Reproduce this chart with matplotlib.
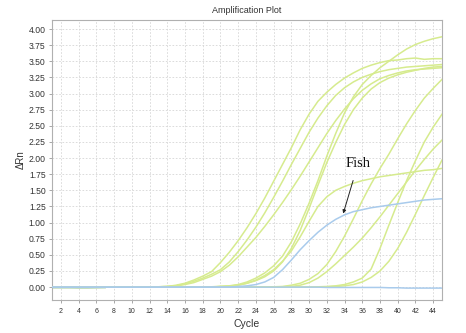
import matplotlib
matplotlib.use("Agg")
import matplotlib.pyplot as plt
from matplotlib.ticker import FixedLocator, FormatStrFormatter

cycles = list(range(1, 46))

# Delta Rn per cycle for each well (cycles 1..45)
well_a1 = [0.00] * 12 + [0.005, 0.01, 0.03, 0.06, 0.11, 0.17, 0.24, 0.38, 0.54, 0.72, 0.92, 1.14, 1.38,
                         1.64, 1.90, 2.16, 2.44, 2.68, 2.88, 3.02, 3.14, 3.24, 3.32, 3.39, 3.44, 3.48,
                         3.51, 3.52, 3.54, 3.55, 3.53, 3.54, 3.54]
well_a2 = [0.00] * 12 + [0.005, 0.01, 0.02, 0.05, 0.09, 0.14, 0.20, 0.27, 0.39, 0.55, 0.73, 0.93, 1.15,
                         1.39, 1.64, 1.90, 2.15, 2.40, 2.62, 2.81, 2.97, 3.09, 3.18, 3.25, 3.30, 3.34,
                         3.37, 3.39, 3.41, 3.42, 3.43, 3.44, 3.45]
well_a3 = [0.00] * 12 + [0.005, 0.01, 0.02, 0.04, 0.07, 0.12, 0.17, 0.24, 0.34, 0.47, 0.62, 0.77, 0.94,
                         1.12, 1.31, 1.51, 1.72, 1.94, 2.16, 2.38, 2.58, 2.76, 2.92, 3.05, 3.15, 3.23,
                         3.28, 3.32, 3.35, 3.37, 3.38, 3.39, 3.40]
well_b1 = [0.00] * 18 + [0.005, 0.01, 0.02, 0.04, 0.08, 0.14, 0.22, 0.33, 0.48, 0.70, 0.98, 1.30, 1.65,
                         2.03, 2.38, 2.70, 2.95, 3.14, 3.28, 3.40, 3.50, 3.60, 3.69, 3.76, 3.81, 3.85,
                         3.88]
well_b2 = [0.00] * 18 + [0.005, 0.01, 0.015, 0.03, 0.06, 0.10, 0.16, 0.25, 0.39, 0.60, 0.88, 1.22, 1.58,
                         1.93, 2.24, 2.52, 2.75, 2.93, 3.07, 3.17, 3.24, 3.29, 3.33, 3.36, 3.39, 3.41,
                         3.42]
well_b3 = [0.00] * 19 + [0.01, 0.015, 0.03, 0.06, 0.11, 0.18, 0.27, 0.40, 0.56, 0.78, 1.02, 1.25, 1.40,
                         1.50, 1.56, 1.61, 1.65, 1.68, 1.71, 1.73, 1.75, 1.77, 1.79, 1.81, 1.82, 1.84]
well_c1 = [0.00] * 25 + [0.005, 0.01, 0.03, 0.06, 0.12, 0.21, 0.35, 0.55, 0.79, 1.06, 1.34, 1.60, 1.84,
                         2.06, 2.30, 2.53, 2.74, 2.93, 3.08, 3.22]
well_c2 = [0.00] * 26 + [0.005, 0.01, 0.03, 0.07, 0.14, 0.24, 0.36, 0.49, 0.62, 0.76, 0.92, 1.09, 1.27,
                         1.45, 1.63, 1.81, 1.98, 2.14, 2.28]
well_d1 = [0.00] * 30 + [0.005, 0.01, 0.02, 0.04, 0.08, 0.14, 0.28, 0.60, 0.96, 1.31, 1.65, 1.96, 2.25,
                         2.48, 2.68]
well_d2 = [0.00] * 31 + [0.005, 0.01, 0.02, 0.04, 0.08, 0.15, 0.25, 0.40, 0.60, 0.85, 1.13, 1.42, 1.70,
                         1.97]

fish = [0.00] * 21 + [0.01, 0.02, 0.04, 0.08, 0.15, 0.27, 0.42, 0.58, 0.72, 0.85, 0.96, 1.05, 1.12, 1.17,
                      1.20, 1.23, 1.25, 1.27, 1.29, 1.31, 1.33, 1.35, 1.36, 1.37]
fish_neg = [0.00] * 30 + [0.00, -0.005, -0.005, -0.005, -0.005, -0.005, -0.005, -0.005, -0.01, -0.01,
                          -0.015, -0.015, -0.015, -0.015, -0.015]
early_cycles = [1, 2, 3, 4, 5, 6, 7]
early_base = [-0.01, -0.01, -0.01, -0.012, -0.012, -0.01, -0.008]

green_wells = [well_a1, well_a2, well_a3, well_b1, well_b2, well_b3,
               well_c1, well_c2, well_d1, well_d2]

x_ticks = list(range(2, 45, 2))
y_ticks = [i * 0.25 for i in range(17)]

GREEN = "#d6eb8e"
BLUE = "#a9cbec"
TXT = "#333333"

fig = plt.figure(figsize=(4.66, 3.33), dpi=100)
ax = fig.add_axes([0.1116, 0.099, 0.837, 0.841])

ax.plot(early_cycles, early_base, color="#a8cfa0", lw=1.1, zorder=2)
for w in green_wells:
    ax.plot(cycles, w, color=GREEN, lw=1.1, zorder=3)
ax.plot(cycles, fish, color=BLUE, lw=1.1, zorder=4)
ax.plot(cycles, fish_neg, color=BLUE, lw=1.1, zorder=4)

ax.set_xlim(1, 45)
ax.set_ylim(-0.2, 4.14)
ax.xaxis.set_major_locator(FixedLocator(x_ticks))
ax.yaxis.set_major_locator(FixedLocator(y_ticks))
ax.yaxis.set_major_formatter(FormatStrFormatter("%.2f"))

ax.grid(True, color="#d6d6d6", linestyle=(0, (2, 2)), linewidth=0.6, zorder=0)
ax.set_axisbelow(True)
for s in ax.spines.values():
    s.set_color("#b0b0b0")
    s.set_linewidth(0.8)

ax.tick_params(axis="x", labelsize=5, colors="#999999", labelcolor=TXT, length=2.5, width=0.6, pad=3)
ax.tick_params(axis="y", labelsize=6.2, colors="#999999", labelcolor=TXT, length=2.5, width=0.6, pad=2)
for lab in ax.get_xticklabels() + ax.get_yticklabels():
    lab.set_family("Liberation Sans")

ax.set_title("Amplification Plot", fontsize=6.5, family="Liberation Sans", color=TXT, pad=5)
ax.set_xlabel("Cycle", fontsize=7.5, family="Liberation Sans", color=TXT, labelpad=3)
ax.set_ylabel("ΔRn", fontsize=7, family="Liberation Sans", color=TXT, labelpad=2)

ax.annotate("Fish", xy=(33.85, 1.14), xytext=(35.55, 1.92), fontsize=10.5,
            family="Liberation Serif", color="#111111", ha="center", va="center",
            arrowprops=dict(arrowstyle="-|>", color="#222222", lw=0.7,
                            mutation_scale=5, shrinkA=6, shrinkB=0))

fig.savefig("out.png", dpi=100)
